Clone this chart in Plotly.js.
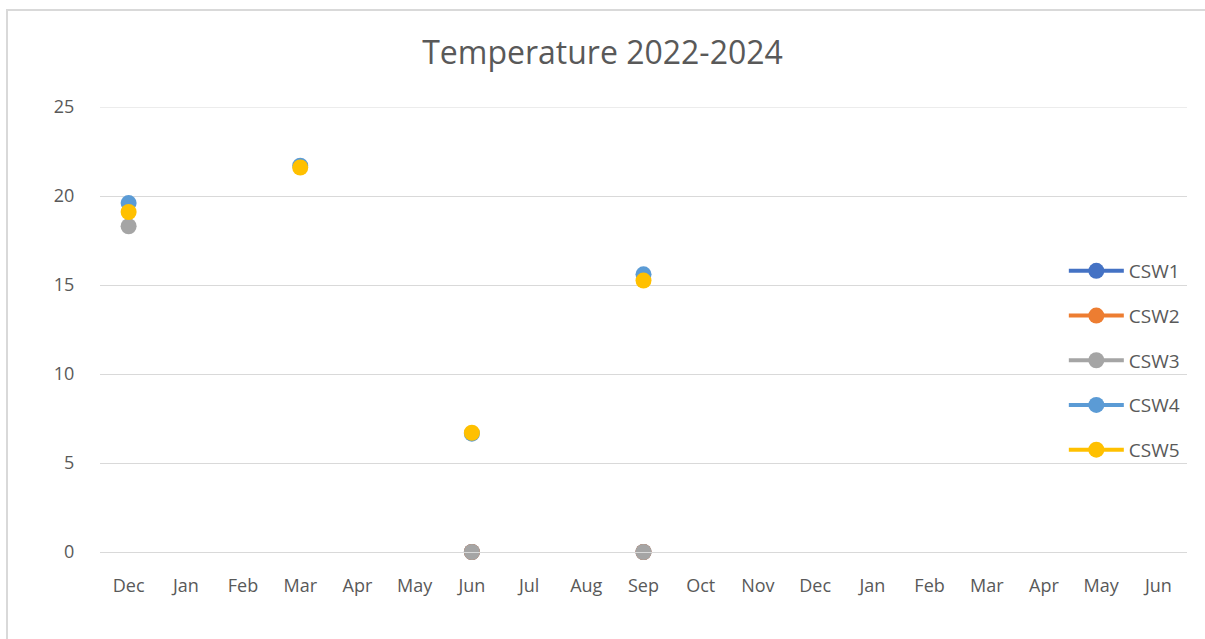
<!DOCTYPE html>
<html>
<head>
<meta charset="utf-8">
<script src="https://cdn.plot.ly/plotly-3.0.1.min.js"></script>
<style>
  html, body { margin: 0; padding: 0; background: #fff; }
  #wrap { position: relative; width: 1205px; height: 639px; overflow: hidden; }
  #chart { position: absolute; left: 0; top: 0; width: 1205px; height: 639px; }
  #frame { position: absolute; left: 6px; top: 9px; width: 1300px; height: 700px; border: 2px solid #d9d9d9; box-sizing: border-box; pointer-events: none; }
</style>
</head>
<body>
<div id="wrap">
  <div id="chart"></div>
  <div id="frame"></div>
</div>
<script>
// Category ticks (Dec 2022 .. Jun 2024)
const monthLabels = ["Dec","Jan","Feb","Mar","Apr","May","Jun","Jul","Aug","Sep","Oct","Nov","Dec","Jan","Feb","Mar","Apr","May","Jun"];
const xIndex = monthLabels.map((_, i) => i);

const seriesNames = ["CSW1","CSW2","CSW3","CSW4","CSW5"];
const seriesColors = ["#4472C4","#ED7D31","#A5A5A5","#5B9BD5","#FFC000"];

// values per month slot (null = no data)
const csw1 = [null,null,null,null,null,null,0,null,null,0,null,null,null,null,null,null,null,null,null];
const csw2 = [null,null,null,null,null,null,0,null,null,0,null,null,null,null,null,null,null,null,null];
const csw3 = [18.3,null,null,null,null,null,0,null,null,0,null,null,null,null,null,null,null,null,null];
const csw4 = [19.6,null,null,21.7,null,null,6.65,null,null,15.6,null,null,null,null,null,null,null,null,null];
const csw5 = [19.1,null,null,21.6,null,null,6.7,null,null,15.25,null,null,null,null,null,null,null,null,null];

const yTicks = [0,5,10,15,20,25];

const allValues = [csw1, csw2, csw3, csw4, csw5];

const traces = allValues.map((vals, i) => ({
  type: 'scatter',
  mode: 'lines+markers',
  name: seriesNames[i],
  x: xIndex,
  y: vals,
  connectgaps: false,
  cliponaxis: false,
  legendgroup: 'g' + i,
  line: { color: seriesColors[i], width: 4 },
  marker: { color: seriesColors[i], size: 16 }
}));

const layout = {
  width: 1205,
  height: 639,
  paper_bgcolor: '#ffffff',
  plot_bgcolor: '#ffffff',
  margin: { l: 100, r: 18, t: 107, b: 87 },
  font: { family: 'Open Sans, sans-serif', color: '#595959', size: 18 },
  title: {
    text: 'Temperature 2022-2024',
    font: { family: 'Open Sans, sans-serif', size: 32, color: '#595959' },
    x: 0.5, xanchor: 'center',
    y: 1 - 53/639, yanchor: 'middle', yref: 'container'
  },
  xaxis: {
    range: [-0.5, 18.5],
    tickmode: 'array',
    tickvals: xIndex,
    ticktext: monthLabels,
    showgrid: false,
    zeroline: false,
    showline: true,
    linecolor: '#d9d9d9',
    linewidth: 1,
    ticks: 'outside',
    ticklen: 17,
    tickcolor: 'rgba(0,0,0,0)',
    tickfont: { size: 18, color: '#595959' },
    fixedrange: true
  },
  yaxis: {
    range: [0, 25],
    tickvals: yTicks,
    showgrid: true,
    gridcolor: '#d9d9d9',
    gridwidth: 1,
    zeroline: false,
    showline: false,
    ticks: 'outside',
    ticklen: 21,
    tickcolor: 'rgba(0,0,0,0)',
    tickfont: { size: 18, color: '#595959' },
    fixedrange: true
  },
  shapes: [{
    type: 'line', xref: 'paper', yref: 'y',
    x0: 0, x1: 1, y0: yTicks[yTicks.length - 1], y1: yTicks[yTicks.length - 1],
    line: { color: '#d9d9d9', width: 1 }, layer: 'below'
  }],
  legend: {
    x: 0.998, xanchor: 'right',
    y: (552 - 252) / 445, yanchor: 'top',
    bgcolor: 'rgba(0,0,0,0)',
    font: { size: 19, color: '#595959' },
    tracegroupgap: 17,
    itemwidth: 55
  },
  showlegend: true
};

Plotly.newPlot('chart', traces, layout, { displayModeBar: false, staticPlot: true });
</script>
</body>
</html>
